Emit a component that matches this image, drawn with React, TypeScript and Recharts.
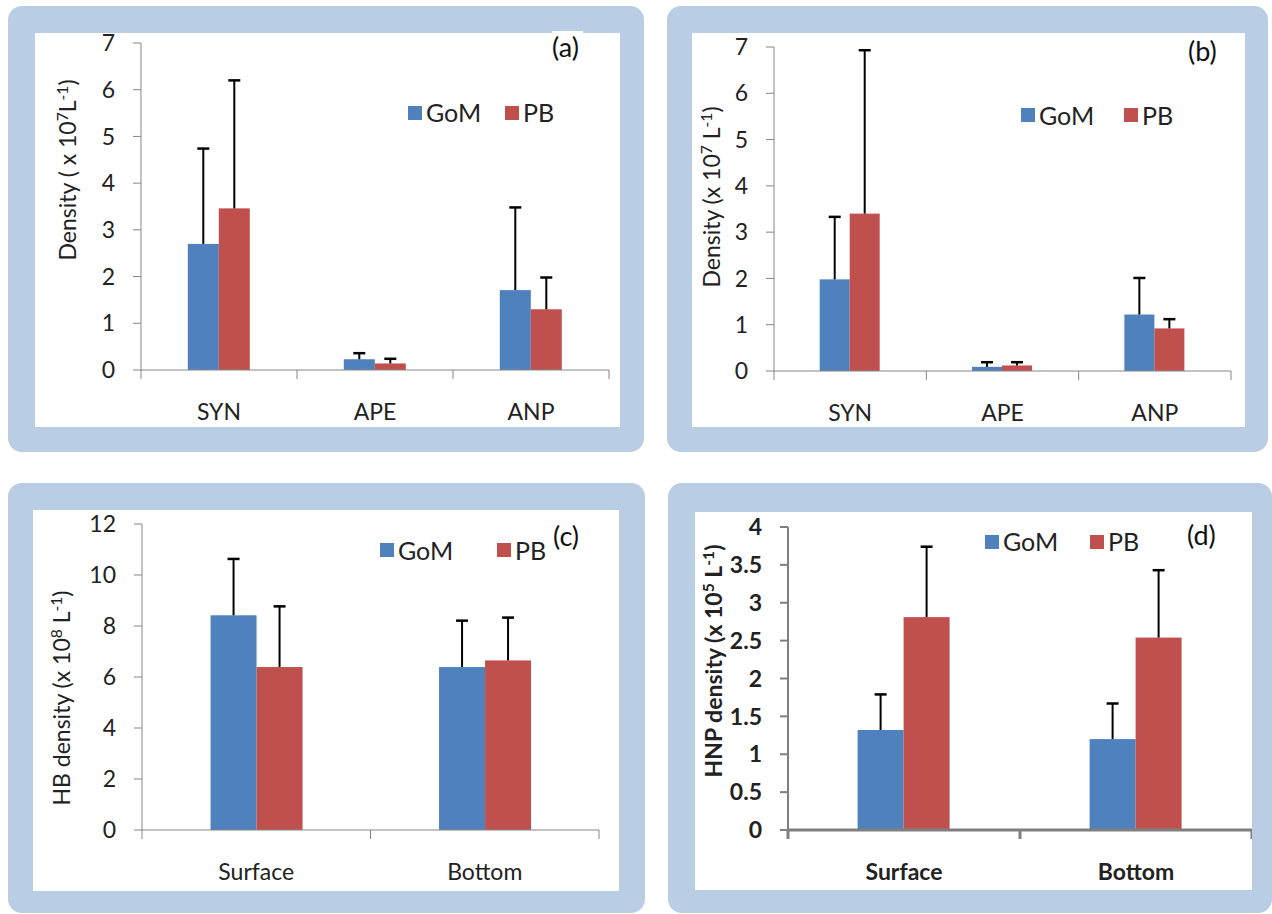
import React from 'react';
import { BarChart, Bar, XAxis, YAxis, Legend } from 'recharts';

// categories
const picoCats = ['SYN', 'APE', 'ANP'];
const depthCats = ['Surface', 'Bottom'];

// (a)
const aGoM = [2.7, 0.23, 1.71];
const aGoMErr = [2.04, 0.13, 1.77];
const aPB = [3.46, 0.14, 1.3];
const aPBErr = [2.74, 0.1, 0.68];

// (b)
const bGoM = [1.98, 0.09, 1.22];
const bGoMErr = [1.35, 0.1, 0.79];
const bPB = [3.4, 0.12, 0.92];
const bPBErr = [3.53, 0.07, 0.2];

// (c)
const cGoM = [8.42, 6.39];
const cGoMErr = [2.21, 1.82];
const cPB = [6.39, 6.65];
const cPBErr = [2.38, 1.68];

// (d)
const dGoM = [1.32, 1.2];
const dGoMErr = [0.47, 0.47];
const dPB = [2.81, 2.54];
const dPBErr = [0.93, 0.89];

const ticks7 = [0, 1, 2, 3, 4, 5, 6, 7];
const ticks12 = [0, 2, 4, 6, 8, 10, 12];
const ticks4 = [0, 0.5, 1, 1.5, 2, 2.5, 3, 3.5, 4];

const colors = {
  gom: '#4F81BD',
  pb: '#C0504D',
  frame: '#B9CDE5',
  axis: '#868686',
  text: '#222222',
};
const FONT = 'Lato, "Open Sans", sans-serif';
const CAT_GAP = 34; // distance from x axis line to top of category label
const OVER = 14; // chart svg reaches a bit above the white area so top tick labels are not cut

function buildRows(cats: string[], gom: number[], gomErr: number[], pb: number[], pbErr: number[]) {
  return cats.map((c, i) => ({ cat: c, GoM: gom[i], GoMErr: gomErr[i], PB: pb[i], PBErr: pbErr[i] }));
}

// bar with a plus-only error whisker, scaled from the bar's own pixel height
function errShape(errKey: string) {
  return (props: any) => {
    const { x, y, width, height, fill, payload, value } = props;
    const v = Array.isArray(value) ? value[1] - value[0] : value;
    const ppu = v ? height / v : 0;
    const top = y - payload[errKey] * ppu;
    const cx = x + width / 2;
    return (
      <g>
        <rect x={x} y={y} width={width} height={height} fill={fill} />
        <line x1={cx} y1={y} x2={cx} y2={top} stroke="#000" strokeWidth={2} />
        <line x1={cx - 6} y1={top} x2={cx + 6} y2={top} stroke="#000" strokeWidth={2.5} />
      </g>
    );
  };
}

// category label plus divider ticks at the band edges
function catTick(n: number, bold: boolean, stroke: string, sw: number) {
  return (props: any) => {
    const { x, y, payload, index } = props;
    const off = payload && payload.offset ? payload.offset : 0;
    const axisY = y - CAT_GAP;
    return (
      <g>
        <line x1={x - off} y1={axisY} x2={x - off} y2={axisY + 9} stroke={stroke} strokeWidth={sw} />
        {index === n - 1 && (
          <line x1={x + off} y1={axisY} x2={x + off} y2={axisY + 9} stroke={stroke} strokeWidth={sw} />
        )}
        <text
          x={x}
          y={y}
          dy="0.71em"
          textAnchor="middle"
          fill={colors.text}
          fontSize={23}
          fontFamily={FONT}
          fontWeight={bold ? 700 : 400}
        >
          {payload.value}
        </text>
      </g>
    );
  };
}

function LegendBox({ gap, fontSize }: { gap: number; fontSize: number }) {
  const items = [
    { name: 'GoM', color: colors.gom },
    { name: 'PB', color: colors.pb },
  ];
  return (
    <div style={{ position: 'relative', height: 28, width: gap + 60 }}>
      {items.map((it, i) => (
        <div
          key={it.name}
          style={{ position: 'absolute', left: i * gap, top: 0, height: 28, display: 'flex', alignItems: 'center' }}
        >
          <span style={{ width: 14, height: 14, background: it.color, display: 'inline-block' }} />
          <span style={{ marginLeft: 4, fontSize, fontFamily: FONT, color: colors.text, lineHeight: 1 }}>{it.name}</span>
        </div>
      ))}
    </div>
  );
}

interface PanelProps {
  frame: { left: number; top: number; width: number; height: number };
  white: { left: number; top: number; width: number; height: number };
  rows: any[];
  domain: [number, number];
  yTicks: number[];
  margin: { top: number; right: number };
  yWidth: number;
  xHeight: number;
  legendPos: { left: number; cy: number; gap: number };
  bold?: boolean;
  heavyAxis?: boolean;
}

function Panel(p: PanelProps) {
  const n = p.rows.length;
  const axisStroke = p.heavyAxis ? '#7f7f7f' : colors.axis;
  const xw = p.heavyAxis ? 3 : 1;
  const yw = p.heavyAxis ? 2 : 1;
  const tickStyle = {
    fill: colors.text,
    fontSize: 23,
    fontFamily: FONT,
    fontWeight: p.bold ? 700 : 400,
  };
  return (
    <>
      <div
        style={{
          position: 'absolute',
          ...p.frame,
          background: colors.frame,
          borderRadius: 14,
        }}
      />
      <div style={{ position: 'absolute', ...p.white, background: '#fff' }} />
      <div
        style={{
          position: 'absolute',
          left: p.white.left,
          top: p.white.top - OVER,
          width: p.white.width,
          height: p.white.height + OVER,
        }}
      >
        <BarChart
          width={p.white.width}
          height={p.white.height + OVER}
          data={p.rows}
          margin={{ top: p.margin.top + OVER, right: p.margin.right, left: 0, bottom: 0 }}
          barGap={0}
          barCategoryGap="30%"
        >
          <XAxis
            dataKey="cat"
            height={p.xHeight}
            axisLine={{ stroke: axisStroke, strokeWidth: xw }}
            tickLine={false}
            tickSize={0}
            tickMargin={CAT_GAP}
            tick={catTick(n, !!p.bold, axisStroke, xw)}
            interval={0}
          />
          <YAxis
            type="number"
            domain={p.domain}
            ticks={p.yTicks}
            allowDataOverflow
            width={p.yWidth}
            tickSize={8}
            tickMargin={18}
            tick={tickStyle}
            axisLine={{ stroke: axisStroke, strokeWidth: yw }}
            tickLine={{ stroke: axisStroke, strokeWidth: yw }}
          />
          <Legend
            layout="horizontal"
            verticalAlign="middle"
            align="center"
            wrapperStyle={{ left: p.legendPos.left, top: p.legendPos.cy - 14 + OVER, width: 'auto' }}
            content={() => <LegendBox gap={p.legendPos.gap} fontSize={25} />}
          />
          <Bar dataKey="GoM" fill={colors.gom} shape={errShape('GoMErr')} isAnimationActive={false} />
          <Bar dataKey="PB" fill={colors.pb} shape={errShape('PBErr')} isAnimationActive={false} />
        </BarChart>
      </div>
    </>
  );
}

function YTitle({ cx, cy, children, bold }: { cx: number; cy: number; children: React.ReactNode; bold?: boolean }) {
  return (
    <div
      style={{
        position: 'absolute',
        left: cx,
        top: cy,
        transform: 'translate(-50%, -50%) rotate(-90deg)',
        whiteSpace: 'nowrap',
        fontFamily: FONT,
        fontSize: 23,
        fontWeight: bold ? 700 : 400,
        color: colors.text,
        lineHeight: 1,
      }}
    >
      {children}
    </div>
  );
}

function PanelTag({ left, cy, text }: { left: number; cy: number; text: string }) {
  return (
    <div
      style={{
        position: 'absolute',
        left,
        top: cy - 16,
        height: 32,
        lineHeight: '32px',
        fontFamily: FONT,
        fontSize: 27,
        color: '#111',
        background: '#fff',
        padding: '0 4px 0 0',
      }}
    >
      {text}
    </div>
  );
}

const supStyle: React.CSSProperties = { fontSize: '0.68em', verticalAlign: '0.5em' };

export default function App() {
  return (
    <div style={{ position: 'absolute', left: 0, top: 0, width: 1272, height: 914, background: '#fff', overflow: 'hidden' }}>
      <Panel
        frame={{ left: 8, top: 6, width: 636, height: 446 }}
        white={{ left: 35, top: 33, width: 585, height: 394 }}
        rows={buildRows(picoCats, aGoM, aGoMErr, aPB, aPBErr)}
        domain={[0, 7]}
        yTicks={ticks7}
        margin={{ top: 10, right: 11 }}
        yWidth={106}
        xHeight={57}
        legendPos={{ left: 373, cy: 79.5, gap: 97 }}
      />
      <Panel
        frame={{ left: 667, top: 6, width: 601, height: 446 }}
        white={{ left: 692, top: 33, width: 553, height: 394 }}
        rows={buildRows(picoCats, bGoM, bGoMErr, bPB, bPBErr)}
        domain={[0, 7]}
        yTicks={ticks7}
        margin={{ top: 14, right: 14 }}
        yWidth={82}
        xHeight={56}
        legendPos={{ left: 329, cy: 82, gap: 103 }}
      />
      <Panel
        frame={{ left: 8, top: 483, width: 637, height: 430 }}
        white={{ left: 33, top: 510, width: 586, height: 381 }}
        rows={buildRows(depthCats, cGoM, cGoMErr, cPB, cPBErr)}
        domain={[0, 12]}
        yTicks={ticks12}
        margin={{ top: 14, right: 20 }}
        yWidth={109}
        xHeight={61}
        legendPos={{ left: 347, cy: 40, gap: 117 }}
      />
      <Panel
        frame={{ left: 668, top: 483, width: 604, height: 430 }}
        white={{ left: 695, top: 512, width: 557, height: 378 }}
        rows={buildRows(depthCats, dGoM, dGoMErr, dPB, dPBErr)}
        domain={[0, 4]}
        yTicks={ticks4}
        margin={{ top: 15, right: 0 }}
        yWidth={93}
        xHeight={60}
        legendPos={{ left: 290, cy: 29.5, gap: 105 }}
        bold
        heavyAxis
      />

      <YTitle cx={67} cy={170}>
        Density ( x 10<span style={supStyle}>7</span>L<span style={supStyle}>-1</span>)
      </YTitle>
      <YTitle cx={711} cy={197}>
        Density (x 10<span style={supStyle}>7</span> L<span style={supStyle}>-1</span>)
      </YTitle>
      <YTitle cx={61} cy={698}>
        HB density (x 10<span style={supStyle}>8</span> L<span style={supStyle}>-1</span>)
      </YTitle>
      <YTitle cx={713} cy={661} bold>
        HNP density (x 10<span style={supStyle}>5</span> L<span style={supStyle}>-1</span>)
      </YTitle>

      <PanelTag left={552} cy={47} text="(a)" />
      <PanelTag left={1188} cy={51} text="(b)" />
      <PanelTag left={553} cy={536} text="(c)" />
      <PanelTag left={1187} cy={535} text="(d)" />
    </div>
  );
}
